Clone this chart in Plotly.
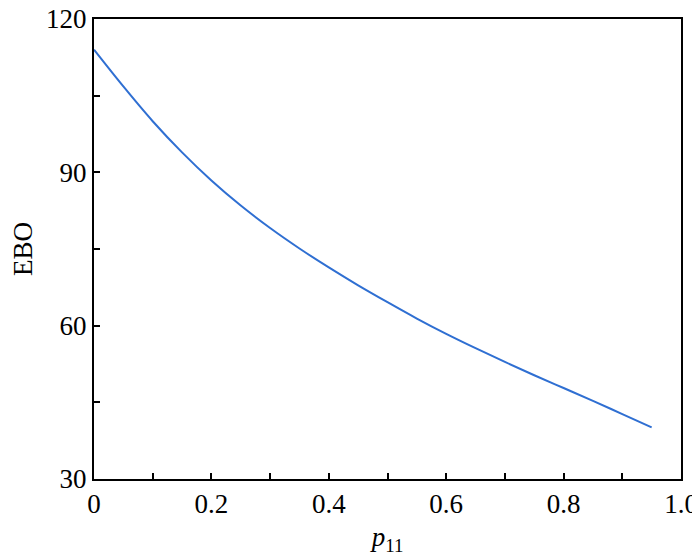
import plotly.graph_objects as go

# p11 values and the EBO
p11 = [0.0, 0.05, 0.1, 0.15, 0.2, 0.25, 0.3, 0.35, 0.4, 0.45,
       0.5, 0.55, 0.6, 0.65, 0.7, 0.75, 0.8, 0.85, 0.9, 0.95]
ebo = [114.0, 106.8, 100.0, 93.9, 88.4, 83.5, 79.1, 75.1, 71.4, 67.9,
       64.6, 61.4, 58.4, 55.6, 52.9, 50.3, 47.8, 45.3, 42.7, 40.1]

x_tickvals = [0, 0.2, 0.4, 0.6, 0.8, 1.0]
x_ticktext = ["0", "0.2", "0.4", "0.6", "0.8", "1.0"]
y_tickvals = [30, 60, 90, 120]

fig = go.Figure()
fig.add_trace(go.Scatter(x=p11, y=ebo, mode="lines",
                         line=dict(color="#2f6fd2", width=2),
                         line_shape="spline", showlegend=False))

axis_style = dict(showline=True, linecolor="black", linewidth=2, mirror=True,
                  showgrid=False, zeroline=False, ticks="inside", ticklen=6,
                  tickwidth=1.5, tickcolor="black", automargin=False,
                  ticklabeloverflow="allow",
                  tickfont=dict(family="Liberation Serif", size=27, color="black"))

fig.update_xaxes(range=[0, 1.0], tickvals=x_tickvals, ticktext=x_ticktext,
                 minor=dict(dtick=0.1, tick0=0, ticks="inside", ticklen=6,
                            tickwidth=1.5, tickcolor="black"),
                 title=dict(text="<i>p</i><sub>11</sub>",
                            font=dict(family="Liberation Serif", size=27, color="black")),
                 **axis_style)
fig.update_yaxes(range=[30, 120], tickvals=y_tickvals,
                 minor=dict(dtick=15, tick0=30, ticks="inside", ticklen=6,
                            tickwidth=1.5, tickcolor="black"),
                 title=dict(text="EBO",
                            font=dict(family="Liberation Serif", size=27, color="black")),
                 **axis_style)

# page body has an 8px margin, so the figure is a bit smaller than the window
fig.update_layout(width=692, height=548, plot_bgcolor="white", paper_bgcolor="white",
                  margin=dict(l=86, r=19, t=11, b=77))

fig.write_html("out.html")
